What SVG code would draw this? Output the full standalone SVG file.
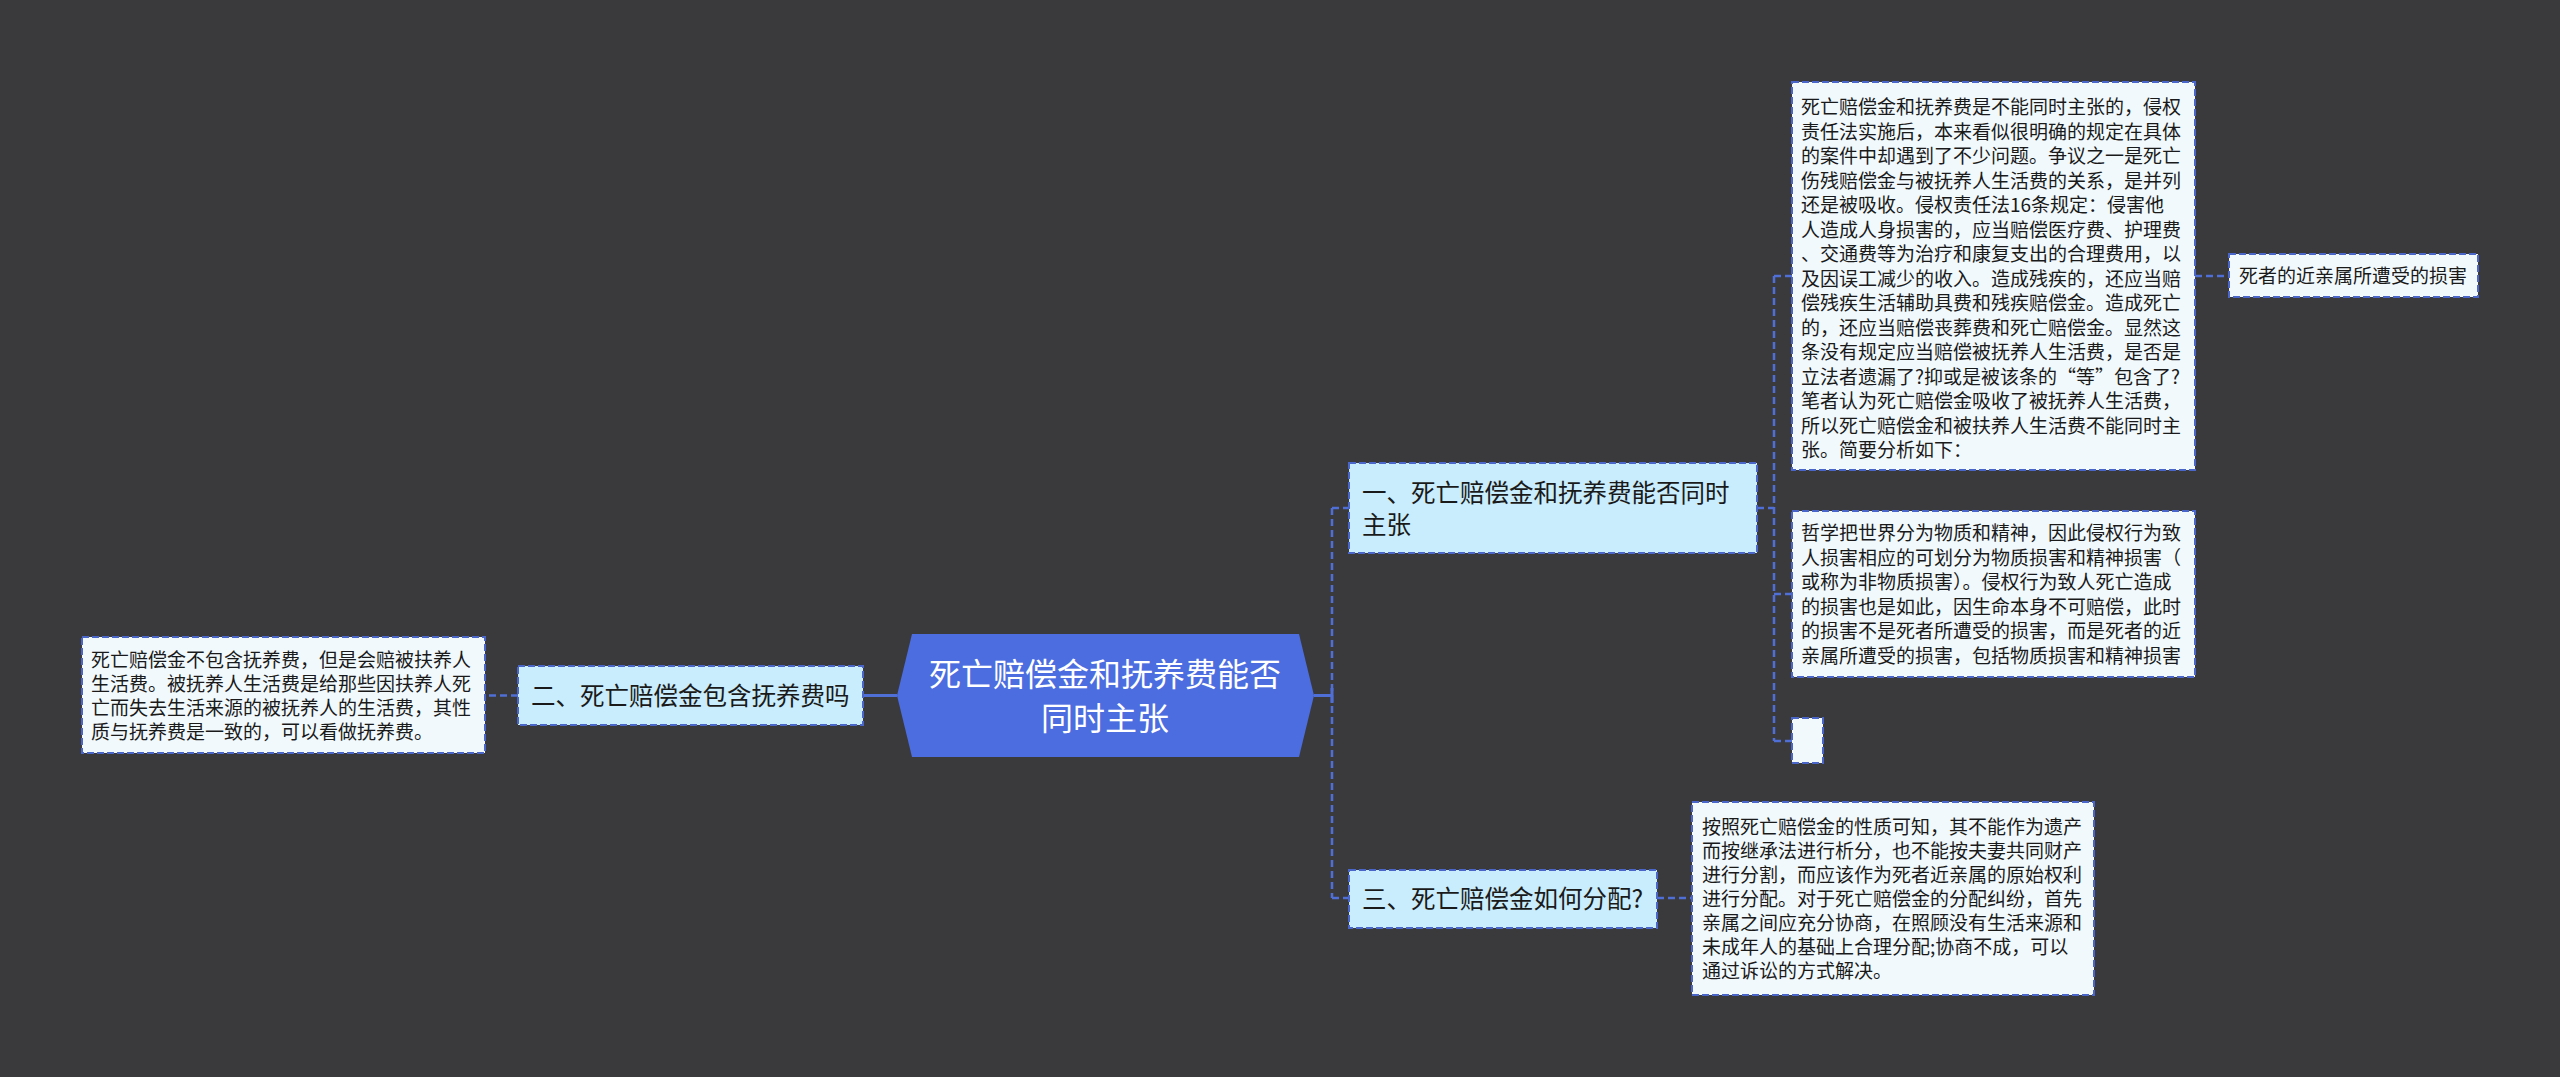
<svg xmlns="http://www.w3.org/2000/svg" width="2560" height="1077" viewBox="0 0 2560 1077">
<style>
.bg{fill:#3a393b}
.lvl{fill:#c9edfc;stroke:#4a66c8;stroke-width:2;stroke-dasharray:7 3}
.det{fill:#f1f9fd;stroke:#4a66c8;stroke-width:2;stroke-dasharray:7 3}
.conn{fill:none;stroke:#4f6fd6;stroke-width:2.5;stroke-dasharray:7 4}
.solid{fill:none;stroke:#4f6fd6;stroke-width:3}
.t19{font-family:"Noto Sans CJK SC","Noto Sans",sans-serif;font-size:19px;fill:#1a1a1a}
.t24{font-family:"Noto Sans CJK SC","Noto Sans",sans-serif;font-size:24.5px;fill:#1a1a1a}
.t32{font-family:"Noto Sans CJK SC","Noto Sans",sans-serif;font-size:32px;fill:#ffffff}
</style>
<rect class="bg" x="0" y="0" width="2560" height="1077"/>
<g id="connectors">
<path class="solid" d="M897 695.5 H864"/>
<path class="conn" d="M518 695.5 H485"/>
<path class="solid" d="M1314 695.5 H1332 M1332 688 V703"/>
<path class="conn" d="M1332 508 V898 M1332 508 H1349 M1332 898 H1349"/>
<path class="conn" d="M1757 508 H1774 M1774 276 V741 M1774 276 H1792 M1774 594 H1792 M1774 741 H1792"/>
<path class="conn" d="M2195 276 H2229"/>
<path class="conn" d="M1657 898 H1692"/>
</g>
<g id="center">
<polygon points="912,634 1299,634 1314,695.5 1299,757 912,757 897,695.5" fill="#4b6ddf"/>
<text class="t32" text-anchor="middle" x="1105" y="686">死亡赔偿金和抚养费能否</text>
<text class="t32" text-anchor="middle" x="1105" y="730">同时主张</text>
</g>
<g id="node-er">
<rect class="lvl" x="518" y="666" width="345" height="59"/>
<text class="t24" x="531" y="705">二、死亡赔偿金包含抚养费吗</text>
</g>
<g id="node-er-detail">
<rect class="det" x="82" y="637" width="403" height="116"/>
<text class="t19"><tspan x="91" y="667">死亡赔偿金不包含抚养费，但是会赔被扶养人</tspan><tspan x="91" y="691">生活费。被抚养人生活费是给那些因扶养人死</tspan><tspan x="91" y="715">亡而失去生活来源的被抚养人的生活费，其性</tspan><tspan x="91" y="739">质与抚养费是一致的，可以看做抚养费。</tspan></text>
</g>
<g id="node-yi">
<rect class="lvl" x="1349" y="463" width="408" height="90"/>
<text class="t24"><tspan x="1362" y="502">一、死亡赔偿金和抚养费能否同时</tspan><tspan x="1362" y="534">主张</tspan></text>
</g>
<g id="node-yi-detail1">
<rect class="det" x="1792" y="82" width="403" height="388"/>
<text class="t19"><tspan x="1801" y="114">死亡赔偿金和抚养费是不能同时主张的，侵权</tspan><tspan x="1801" y="138.5">责任法实施后，本来看似很明确的规定在具体</tspan><tspan x="1801" y="163">的案件中却遇到了不少问题。争议之一是死亡</tspan><tspan x="1801" y="187.5">伤残赔偿金与被抚养人生活费的关系，是并列</tspan><tspan x="1801" y="212">还是被吸收。侵权责任法16条规定：侵害他</tspan><tspan x="1801" y="236.5">人造成人身损害的，应当赔偿医疗费、护理费</tspan><tspan x="1801" y="261">、交通费等为治疗和康复支出的合理费用，以</tspan><tspan x="1801" y="285.5">及因误工减少的收入。造成残疾的，还应当赔</tspan><tspan x="1801" y="310">偿残疾生活辅助具费和残疾赔偿金。造成死亡</tspan><tspan x="1801" y="334.5">的，还应当赔偿丧葬费和死亡赔偿金。显然这</tspan><tspan x="1801" y="359">条没有规定应当赔偿被抚养人生活费，是否是</tspan><tspan x="1801" y="383.5">立法者遗漏了?抑或是被该条的“等”包含了?</tspan><tspan x="1801" y="408">笔者认为死亡赔偿金吸收了被抚养人生活费，</tspan><tspan x="1801" y="432.5">所以死亡赔偿金和被扶养人生活费不能同时主</tspan><tspan x="1801" y="457">张。简要分析如下：</tspan></text>
</g>
<g id="node-yi-detail1-child">
<rect class="det" x="2229" y="254" width="249" height="43"/>
<text class="t19" x="2239" y="283">死者的近亲属所遭受的损害</text>
</g>
<g id="node-yi-detail2">
<rect class="det" x="1792" y="511" width="403" height="166"/>
<text class="t19"><tspan x="1801" y="540">哲学把世界分为物质和精神，因此侵权行为致</tspan><tspan x="1801" y="564.5">人损害相应的可划分为物质损害和精神损害（</tspan><tspan x="1801" y="589">或称为非物质损害）。侵权行为致人死亡造成</tspan><tspan x="1801" y="613.5">的损害也是如此，因生命本身不可赔偿，此时</tspan><tspan x="1801" y="638">的损害不是死者所遭受的损害，而是死者的近</tspan><tspan x="1801" y="662.5">亲属所遭受的损害，包括物质损害和精神损害</tspan></text>
</g>
<g id="node-yi-detail3">
<rect class="det" x="1792" y="718" width="31" height="45"/>
</g>
<g id="node-san">
<rect class="lvl" x="1349" y="870" width="308" height="58"/>
<text class="t24" x="1362" y="908">三、死亡赔偿金如何分配?</text>
</g>
<g id="node-san-detail">
<rect class="det" x="1692" y="802" width="402" height="193"/>
<text class="t19"><tspan x="1702" y="834">按照死亡赔偿金的性质可知，其不能作为遗产</tspan><tspan x="1702" y="858">而按继承法进行析分，也不能按夫妻共同财产</tspan><tspan x="1702" y="882">进行分割，而应该作为死者近亲属的原始权利</tspan><tspan x="1702" y="906">进行分配。对于死亡赔偿金的分配纠纷，首先</tspan><tspan x="1702" y="930">亲属之间应充分协商，在照顾没有生活来源和</tspan><tspan x="1702" y="954">未成年人的基础上合理分配;协商不成，可以</tspan><tspan x="1702" y="978">通过诉讼的方式解决。</tspan></text>
</g>
</svg>
